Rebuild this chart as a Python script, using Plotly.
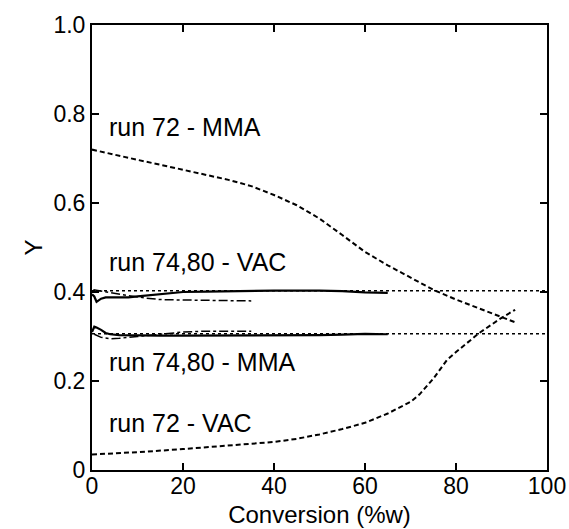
import plotly.graph_objects as go

# ---- data ----
conv_mma72 = [0, 5, 10, 15, 20, 25, 30, 35, 40, 45, 50, 55, 60, 65, 70, 75, 80, 85, 90, 93]
y_mma72 = [0.72, 0.708, 0.697, 0.686, 0.675, 0.664, 0.652, 0.638, 0.618, 0.595, 0.565,
           0.528, 0.49, 0.46, 0.433, 0.405, 0.383, 0.363, 0.343, 0.332]

conv_vac72 = [0, 10, 20, 30, 40, 45, 50, 55, 60, 65, 70, 72, 75, 78, 80, 85, 90, 93]
y_vac72 = [0.035, 0.04, 0.047, 0.055, 0.063, 0.07, 0.08, 0.092, 0.106, 0.127, 0.153,
           0.17, 0.205, 0.247, 0.265, 0.307, 0.342, 0.36]

conv_model = [0, 100]
y_model_vac = [0.403, 0.403]
y_model_mma = [0.306, 0.306]

conv_vac74 = [0, 0.5, 1, 2, 3, 5, 8, 10, 15, 20, 25, 30, 40, 50, 55, 60, 65]
y_vac74 = [0.395, 0.39, 0.378, 0.385, 0.388, 0.388, 0.388, 0.39, 0.395, 0.40, 0.401,
           0.402, 0.403, 0.403, 0.402, 0.399, 0.398]

conv_vac80 = [0.3, 2, 5, 8, 12, 15, 20, 25, 30, 35]
y_vac80 = [0.405, 0.402, 0.398, 0.392, 0.386, 0.383, 0.382, 0.381, 0.381, 0.38]

conv_mma74 = [0, 0.5, 1, 2, 3, 4, 6, 10, 15, 20, 30, 40, 50, 55, 60, 65]
y_mma74 = [0.31, 0.322, 0.32, 0.315, 0.308, 0.305, 0.303, 0.302, 0.302, 0.302, 0.302,
           0.302, 0.303, 0.304, 0.306, 0.305]

conv_mma80 = [0.5, 2, 4, 6, 10, 15, 20, 25, 30, 35]
y_mma80 = [0.305, 0.298, 0.295, 0.296, 0.3, 0.305, 0.31, 0.312, 0.312, 0.312]

x_range = [0, 100]
x_ticks = [0, 20, 40, 60, 80, 100]
x_ticktext = ["0", "20", "40", "60", "80", "100"]
y_ticks = [0, 0.2, 0.4, 0.6, 0.8, 1.0]
y_ticktext = ["0", "0.2", "0.4", "0.6", "0.8", "1.0"]

labels = ["run 72 - MMA", "run 74,80 - VAC", "run 74,80 - MMA", "run 72 - VAC"]
label_x = [3.3, 3.3, 3.3, 3.3]
label_y = [0.771, 0.467, 0.243, 0.106]

FONT = "Liberation Sans, Arial, Helvetica, sans-serif"

fig = go.Figure()

def add(x, y, dash, width, xaxis="x"):
    fig.add_trace(go.Scatter(x=x, y=y, mode="lines", xaxis=xaxis,
                             line=dict(color="black", dash=dash, width=width),
                             showlegend=False, hoverinfo="skip"))

# model lines go on x2, which has the very same range as x
add(conv_model, y_model_vac, "dot", 1.5, "x2")
add(conv_model, y_model_mma, "dot", 1.5, "x2")
add(conv_vac80, y_vac80, "dashdot", 1.5)
add(conv_mma80, y_mma80, "dashdot", 1.5)
add(conv_vac74, y_vac74, "solid", 2.2)
add(conv_mma74, y_mma74, "solid", 2.2)
add(conv_mma72, y_mma72, "5px,3px", 2)
add(conv_vac72, y_vac72, "5px,3px", 2)

for t, xx, yy in zip(labels, label_x, label_y):
    fig.add_annotation(x=xx, y=yy, text=t, showarrow=False, xanchor="left",
                       yanchor="middle", font=dict(size=25, color="black", family=FONT))

tickfont = dict(size=23, color="black", family=FONT)
axis_common = dict(showgrid=False, zeroline=False, showline=True, linecolor="black",
                   linewidth=2, mirror="ticks", ticks="inside", ticklen=7,
                   tickwidth=1.5, tickcolor="black", tickfont=tickfont)

# main x axis: frame line and inside ticks; its labels are drawn by the overlaid
# axis x2, which sits closer to the frame (as in the reference)
fig.update_xaxes(range=x_range, tickvals=x_ticks, showticklabels=False,
                 title=dict(text="Conversion (%w)", standoff=35,
                            font=dict(size=24, color="black", family=FONT)),
                 **axis_common)
fig.update_yaxes(range=[0, 1.0], tickvals=y_ticks, ticktext=y_ticktext,
                 title=dict(text="Y", standoff=4,
                            font=dict(size=24, color="black", family=FONT)),
                 **axis_common)

fig.update_layout(
    xaxis2=dict(overlaying="x", anchor="free", position=0, side="bottom",
                range=x_range, tickvals=x_ticks, ticktext=x_ticktext,
                showline=False, ticks="", showgrid=False, zeroline=False,
                tickfont=tickfont),
    width=569, height=529,
    margin=dict(l=92, r=22, t=25, b=59, autoexpand=False),
    paper_bgcolor="white", plot_bgcolor="white",
    font=dict(family=FONT, color="black"))

# remove the page's default 8px body margin so the figure fills the window exactly
fig.write_html("out.html", config={"displayModeBar": False},
               post_script="document.body.style.margin='0';document.body.style.overflow='hidden';")
